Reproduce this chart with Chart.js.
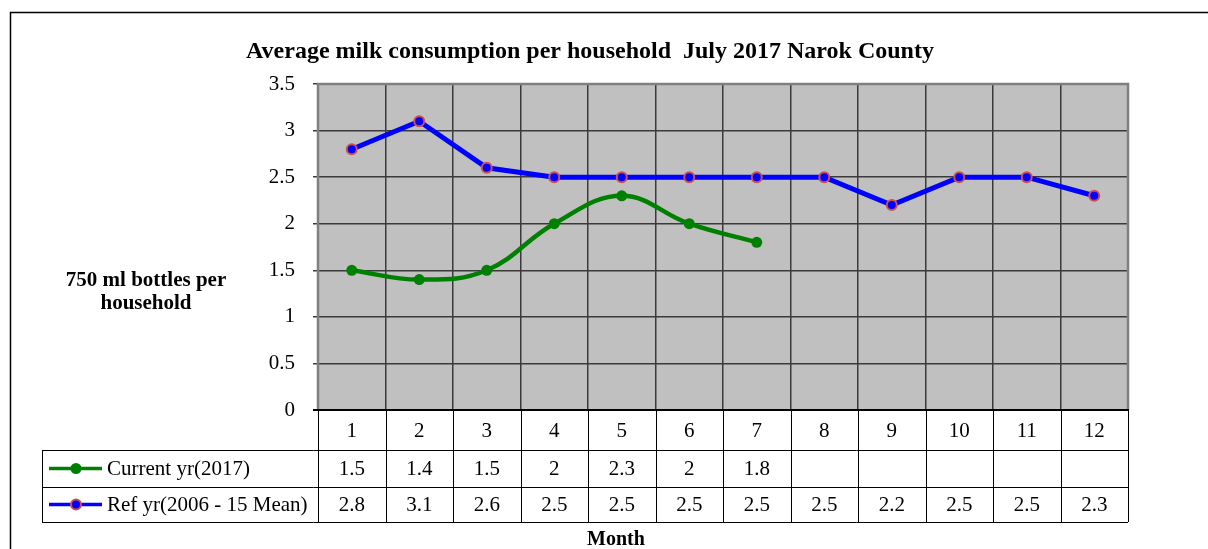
<!DOCTYPE html>
<html>
<head>
<meta charset="utf-8">
<title>Average milk consumption per household</title>
<script src="https://cdn.jsdelivr.net/npm/chart.js@4.4.1/dist/chart.umd.min.js"></script>
<style>
  html, body { margin: 0; padding: 0; background: #fff; }
  canvas { display: block; }
</style>
</head>
<body>
<canvas id="milk-chart" width="1208" height="549"></canvas>
<script>
// chart data
const months = ['1', '2', '3', '4', '5', '6', '7', '8', '9', '10', '11', '12'];
const currentYear = [1.5, 1.4, 1.5, 2, 2.3, 2, 1.8, null, null, null, null, null];
const refYears = [2.8, 3.1, 2.6, 2.5, 2.5, 2.5, 2.5, 2.5, 2.2, 2.5, 2.5, 2.3];
const yTicks = [0, 0.5, 1, 1.5, 2, 2.5, 3, 3.5];
const seriesNames = ['Current yr(2017)', 'Ref yr(2006 - 15 Mean)'];

const chartTitle = 'Average milk consumption per household  July 2017 Narok County';
const yTitle = ['750 ml bottles per', 'household'];
const xTitle = 'Month';

const FONT = "'Liberation Serif', 'Times New Roman', serif";

const plotBackground = {
    id: 'plotBackground',
    beforeDraw(chart) {
        const { ctx, chartArea: a } = chart;
        ctx.save();
        ctx.fillStyle = '#fff';
        ctx.fillRect(0, 0, chart.width, chart.height);
        ctx.fillStyle = '#c0c0c0';
        ctx.fillRect(a.left, a.top, a.right - a.left, a.bottom - a.top);
        ctx.restore();
    },
    beforeDatasetsDraw(chart) {
        const { ctx, chartArea: a } = chart;
        ctx.save();
        ctx.strokeStyle = '#808080';
        ctx.lineWidth = 2.5;
        ctx.beginPath();
        ctx.moveTo(a.left, a.bottom);
        ctx.lineTo(a.left, a.top);
        ctx.lineTo(a.right, a.top);
        ctx.lineTo(a.right, a.bottom);
        ctx.stroke();
        // axis line at zero
        ctx.strokeStyle = '#000';
        ctx.lineWidth = 2;
        ctx.beginPath();
        ctx.moveTo(a.left - 5, a.bottom);
        ctx.lineTo(a.right + 1, a.bottom);
        ctx.stroke();
        ctx.restore();
    }
};

function drawKey(ctx, ds, x, y) {
    ctx.strokeStyle = ds.borderColor;
    ctx.lineWidth = 3.5;
    ctx.beginPath();
    ctx.moveTo(x, y);
    ctx.lineTo(x + 53, y);
    ctx.stroke();
    ctx.beginPath();
    ctx.arc(x + 27, y, ds.pointRadius, 0, Math.PI * 2);
    ctx.fillStyle = ds.pointBackgroundColor;
    ctx.fill();
    if (ds.pointBorderWidth) {
        ctx.lineWidth = ds.pointBorderWidth;
        ctx.strokeStyle = ds.pointBorderColor;
        ctx.stroke();
    }
}

const dataTable = {
    id: 'dataTable',
    afterDraw(chart) {
        const { ctx, chartArea: a, scales: { x } } = chart;
        const colW = (a.right - a.left) / months.length;
        const rowH = [40, 37, 35];
        const rowTop = [a.bottom, a.bottom + rowH[0], a.bottom + rowH[0] + rowH[1]];
        const tableBottom = rowTop[2] + rowH[2];
        const legendLeft = 42;

        ctx.save();
        ctx.strokeStyle = '#000';
        ctx.lineWidth = 1;

        // vertical column lines
        for (let i = 0; i <= months.length; i++) {
            const xx = Math.round(a.left + i * colW) + 0.5;
            ctx.beginPath();
            ctx.moveTo(xx, a.bottom);
            ctx.lineTo(xx, tableBottom);
            ctx.stroke();
        }
        // horizontal row lines
        [rowTop[1], rowTop[2], tableBottom].forEach(yy => {
            ctx.beginPath();
            ctx.moveTo(legendLeft, Math.round(yy) + 0.5);
            ctx.lineTo(a.right, Math.round(yy) + 0.5);
            ctx.stroke();
        });
        ctx.beginPath();
        ctx.moveTo(legendLeft + 0.5, rowTop[1]);
        ctx.lineTo(legendLeft + 0.5, tableBottom);
        ctx.stroke();

        // text
        ctx.fillStyle = '#000';
        ctx.font = '21px ' + FONT;
        ctx.textAlign = 'center';
        ctx.textBaseline = 'middle';
        months.forEach((m, i) => {
            const cx = x.getPixelForValue(i);
            ctx.fillText(m, cx, rowTop[0] + rowH[0] / 2 + 1);
            const series = [currentYear, refYears];
            series.forEach((vals, r) => {
                if (vals[i] !== null) {
                    ctx.fillText(String(vals[i]), cx, rowTop[r + 1] + rowH[r + 1] / 2 + 1);
                }
            });
        });

        // legend keys
        chart.data.datasets.forEach((ds, r) => {
            const cy = rowTop[r + 1] + rowH[r + 1] / 2;
            drawKey(ctx, ds, legendLeft + 7, cy);
            ctx.fillStyle = '#000';
            ctx.textAlign = 'left';
            ctx.fillText(seriesNames[r], legendLeft + 65, cy + 1);
        });

        // titles
        ctx.textAlign = 'center';
        ctx.font = 'bold 24px ' + FONT;
        ctx.fillText(chartTitle, 590, 52);
        ctx.font = 'bold 21px ' + FONT;
        ctx.fillText(yTitle[0], 146, 281);
        ctx.fillText(yTitle[1], 146, 304);
        ctx.font = 'bold 20px ' + FONT;
        ctx.fillText(xTitle, 616, 540);

        // outer frame
        ctx.strokeStyle = '#000';
        ctx.lineWidth = 1.5;
        ctx.beginPath();
        ctx.moveTo(10.5, chart.height);
        ctx.lineTo(10.5, 12.5);
        ctx.lineTo(chart.width, 12.5);
        ctx.stroke();
        ctx.restore();
    }
};

const ctx = document.getElementById('milk-chart').getContext('2d');
new Chart(ctx, {
    type: 'line',
    data: {
        labels: months,
        datasets: [{
            label: seriesNames[0],
            data: currentYear,
            borderColor: '#008000',
            borderWidth: 4.5,
            tension: 0.4,
            pointRadius: 5.5,
            pointBackgroundColor: '#008000',
            pointBorderColor: '#008000',
            pointBorderWidth: 0,
            fill: false
        }, {
            label: seriesNames[1],
            data: refYears,
            borderColor: '#0000ff',
            borderWidth: 5,
            tension: 0,
            pointRadius: 5,
            pointBackgroundColor: '#0000ff',
            pointBorderColor: '#cf4f4a',
            pointBorderWidth: 2,
            fill: false
        }]
    },
    options: {
        responsive: false,
        animation: false,
        layout: {
            padding: { left: 10, right: 80, top: 84, bottom: 0 }
        },
        scales: {
            x: {
                type: 'category',
                offset: true,
                ticks: { display: false },
                grid: { color: '#3a3a3a', lineWidth: 1.5, drawTicks: false, offset: true },
                border: { display: false },
                afterFit(scale) { scale.height = 139; }
            },
            y: {
                min: 0,
                max: 3.5,
                afterBuildTicks(scale) {
                    scale.ticks = yTicks.map(v => ({ value: v }));
                },
                ticks: {
                    color: '#000',
                    padding: 18,
                    font: { family: FONT, size: 21 },
                    callback: v => String(v)
                },
                grid: { color: '#3a3a3a', lineWidth: 1.5, tickLength: 5, drawTicks: true },
                border: { display: false },
                afterFit(scale) { scale.width = 308; }
            }
        },
        plugins: {
            legend: { display: false },
            tooltip: { enabled: false },
            title: { display: false }
        }
    },
    plugins: [plotBackground, dataTable]
});
</script>
</body>
</html>
